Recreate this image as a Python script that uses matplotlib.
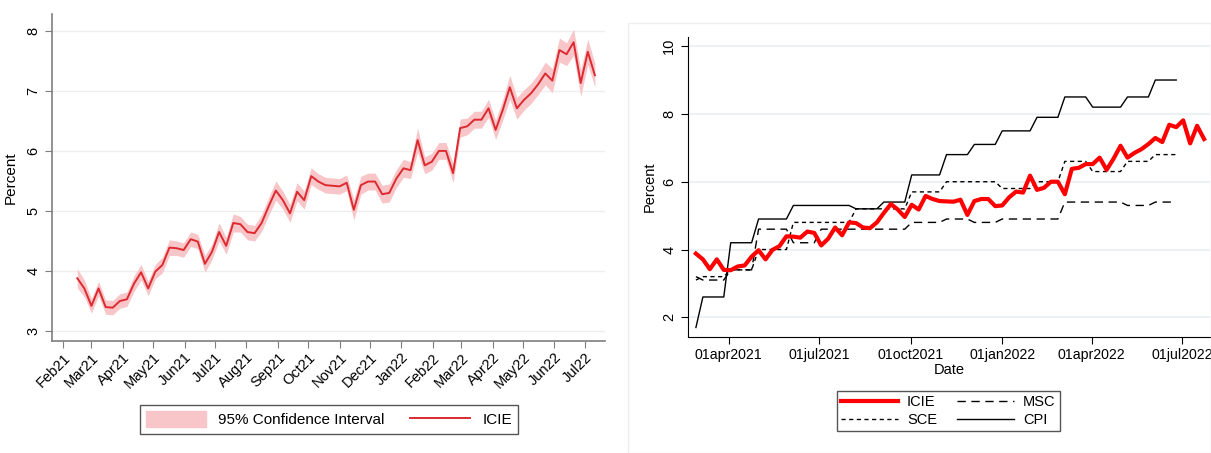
import matplotlib
matplotlib.use("Agg")
import matplotlib.pyplot as plt
import matplotlib.patches as mpatches
from matplotlib.lines import Line2D
import numpy as np
import pandas as pd

plt.rcParams['font.family'] = ['Liberation Sans', 'DejaVu Sans']

# weekly ICIE readings, Feb 2021 - Jul 2022
weeks = pd.date_range("2021-02-27", periods=74, freq="7D")
icie = [3.88, 3.71, 3.42, 3.71, 3.40, 3.39, 3.50, 3.53, 3.79, 3.98,
        3.71, 3.99, 4.10, 4.39, 4.38, 4.35, 4.53, 4.49, 4.12, 4.32,
        4.65, 4.42, 4.80, 4.78, 4.65, 4.63, 4.80, 5.08, 5.34, 5.18,
        4.96, 5.32, 5.18, 5.58, 5.49, 5.43, 5.42, 5.41, 5.47, 5.02,
        5.43, 5.49, 5.49, 5.28, 5.30, 5.54, 5.71, 5.68, 6.18, 5.76,
        5.82, 6.00, 6.00, 5.63, 6.38, 6.41, 6.52, 6.52, 6.71, 6.35,
        6.68, 7.06, 6.71, 6.85, 6.96, 7.11, 7.29, 7.17, 7.68, 7.61,
        7.81, 7.13, 7.65, 7.26]
# half width of the 95% confidence band
ci_half = [0.16, 0.14, 0.12, 0.12, 0.12, 0.12, 0.12, 0.12, 0.13, 0.13,
           0.12, 0.12, 0.13, 0.13, 0.12, 0.12, 0.12, 0.12, 0.14, 0.13,
           0.15, 0.14, 0.15, 0.13, 0.13, 0.13, 0.14, 0.15, 0.16, 0.15,
           0.15, 0.15, 0.15, 0.14, 0.13, 0.13, 0.13, 0.13, 0.13, 0.17,
           0.15, 0.14, 0.14, 0.15, 0.15, 0.15, 0.15, 0.14, 0.20, 0.14,
           0.14, 0.14, 0.14, 0.16, 0.15, 0.14, 0.14, 0.14, 0.15, 0.16,
           0.17, 0.20, 0.18, 0.17, 0.17, 0.17, 0.19, 0.20, 0.20, 0.19,
           0.22, 0.22, 0.21, 0.20]

# monthly benchmarks, Feb 2021 - Jun 2022
months = pd.period_range("2021-02", "2022-06", freq="M")
msc = [3.2, 3.1, 3.4, 4.6, 4.2, 4.6, 4.6, 4.6, 4.8, 4.9, 4.8, 4.9, 4.9, 5.4, 5.4, 5.3, 5.4]
sce = [3.1, 3.2, 3.4, 4.0, 4.8, 4.8, 5.2, 5.2, 5.7, 6.0, 6.0, 5.8, 6.0, 6.6, 6.3, 6.6, 6.8]
cpi = [1.7, 2.6, 4.2, 4.9, 5.3, 5.3, 5.2, 5.4, 6.2, 6.8, 7.1, 7.5, 7.9, 8.5, 8.2, 8.5, 9.0]

left_months = pd.date_range("2021-02-01", periods=18, freq="MS")
left_ticks = left_months + pd.Timedelta(days=12)
right_ticks = pd.to_datetime(["2021-04-01", "2021-07-01", "2021-10-01",
                              "2022-01-01", "2022-04-01", "2022-07-01"])
right_labels = ["01apr2021", "01jul2021", "01oct2021", "01jan2022", "01apr2022", "01jul2022"]


def weekly(series):
    lookup = pd.Series(series, index=months)
    wk = weeks.to_period("M")
    return np.array([lookup.get(p, np.nan) for p in wk])


icie = np.array(icie)
ci_half = np.array(ci_half)

fig = plt.figure(figsize=(12.11, 4.53), dpi=100)

# ---- left panel: ICIE with confidence band ----
ax1 = fig.add_axes([0.0429, 0.2479, 0.4567, 0.7212])
ax1.fill_between(weeks, icie - ci_half, icie + ci_half, color="#f8c6c8", lw=0)
ax1.plot(weeks, icie, color="#dc2a30", lw=1.4)
ax1.set_xlim(pd.Timestamp("2021-02-02"), pd.Timestamp("2022-08-02"))
ax1.set_ylim(2.84, 8.28)
ax1.set_yticks([3, 4, 5, 6, 7, 8])
ax1.grid(axis="y", color="#eeeeee", lw=1)
ax1.set_axisbelow(True)
for s in ["top", "right"]:
    ax1.spines[s].set_visible(False)
for s in ["left", "bottom"]:
    ax1.spines[s].set_color("#7f7f7f")
    ax1.spines[s].set_linewidth(1.2)
ax1.set_xticks(left_ticks)
ax1.set_xticklabels([d.strftime("%b%y") for d in left_months],
                    rotation=45, ha="right", rotation_mode="anchor")
ax1.tick_params(axis="x", length=5, color="#7f7f7f", labelsize=10.5, pad=2)
ax1.tick_params(axis="y", length=5, color="#7f7f7f", labelsize=10.5, labelrotation=90)
for lab in ax1.get_yticklabels():
    lab.set_va("center")
ax1.set_ylabel("Percent", fontsize=11, labelpad=6)

h1 = [mpatches.Patch(color="#f8c6c8"), Line2D([], [], color="#dc2a30", lw=1.4)]
fig.legend(h1, ["95% Confidence Interval", "ICIE"], loc="center",
           bbox_to_anchor=(0.2717, 0.074), ncol=2, fontsize=11, fancybox=False,
           edgecolor="#555555", framealpha=1, handlelength=3.9, handleheight=1.2,
           columnspacing=1.7, borderpad=0.4)

# ---- right panel: ICIE against survey and CPI benchmarks ----
fig.add_artist(mpatches.Rectangle((628 / 1211, 0), 1 - 628 / 1211, 1 - 23 / 453,
                                  transform=fig.transFigure, fill=False,
                                  edgecolor="#eeeeee", lw=1))
ax2 = fig.add_axes([0.5681, 0.2561, 0.4311, 0.6623])
ax2.plot(weeks, weekly(cpi), color="black", lw=1.0)
ax2.plot(weeks, weekly(msc), color="black", lw=1.0, dashes=(6, 4))
ax2.plot(weeks, weekly(sce), color="black", lw=1.0, dashes=(3, 2.5))
ax2.plot(weeks, icie, color="#ff0000", lw=3.0)
ax2.set_xlim(pd.Timestamp("2021-02-19"), pd.Timestamp("2022-07-29"))
ax2.set_ylim(1.42, 10.27)
ax2.set_yticks([2, 4, 6, 8, 10])
ax2.grid(axis="y", color="#e8eff2", lw=1.2)
ax2.set_axisbelow(True)
for s in ["top", "right"]:
    ax2.spines[s].set_visible(False)
ax2.set_xticks(right_ticks)
ax2.set_xticklabels(right_labels)
ax2.tick_params(axis="x", length=5, labelsize=10.2, pad=3)
ax2.tick_params(axis="y", length=5, labelsize=10.5, labelrotation=90)
for lab in ax2.get_yticklabels():
    lab.set_va("center")
ax2.set_ylabel("Percent", fontsize=10.5, labelpad=4)
ax2.set_xlabel("Date", fontsize=10.5, labelpad=1)

h2 = [Line2D([], [], color="#ff0000", lw=3.0),
      Line2D([], [], color="black", lw=1.0, dashes=(3, 2.5)),
      Line2D([], [], color="black", lw=1.0, dashes=(6, 4)),
      Line2D([], [], color="black", lw=1.0)]
fig.legend(h2, ["ICIE", "SCE", "MSC", "CPI"], loc="center",
           bbox_to_anchor=(0.7832, 0.0927), ncol=2, fontsize=10.5, fancybox=False,
           edgecolor="#555555", framealpha=1, handlelength=3.9,
           columnspacing=1.4, borderpad=0.3, labelspacing=0.25, handletextpad=0.6)

fig.savefig("out.png", dpi=100)
